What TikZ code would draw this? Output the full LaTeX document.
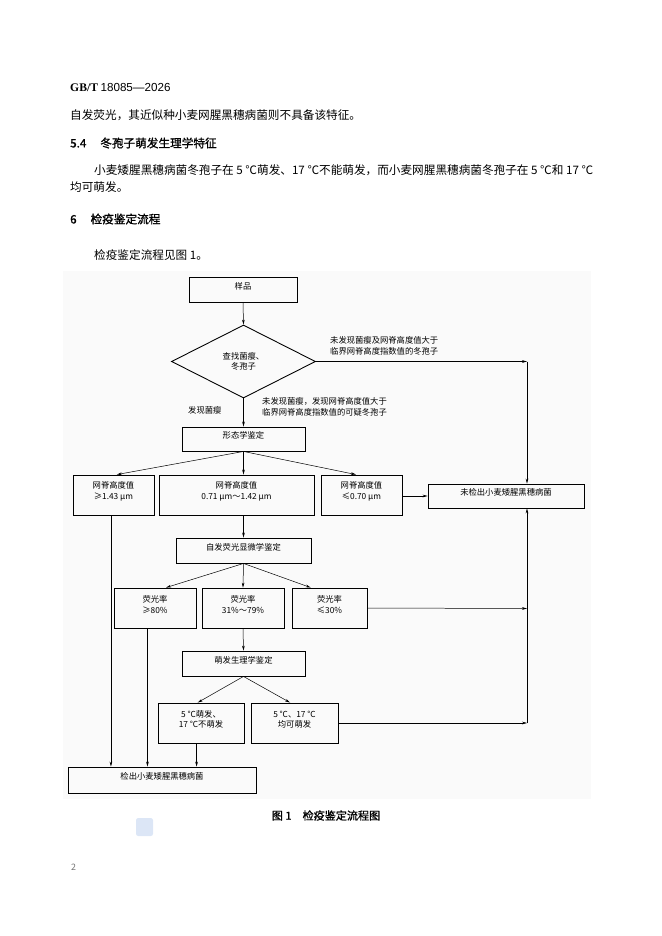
\documentclass[tikz,border=0pt]{standalone}
\usepackage{fontspec}
\setmainfont{Noto Sans CJK SC}
\newfontfamily\cjk{Noto Sans CJK SC}
\newfontfamily\cjkh[FakeBold=1.2]{Noto Sans CJK SC}
\newfontfamily\lserif{Liberation Serif}
\newfontfamily\lsans{Liberation Sans}
\usetikzlibrary{shapes.geometric,arrows.meta,fit}
\definecolor{logoblue}{RGB}{220,230,246}
\definecolor{figbg}{RGB}{250,250,250}
\newcommand\myfigfont{\cjk\fontsize{7.5}{9.6}\selectfont}
\newcommand\mybodyfont{\cjk\fontsize{10.5}{12}\selectfont}
\newcommand\myheadfont{\cjkh\fontsize{10.5}{12}\selectfont}
\tikzset{
  box/.style={draw, line width=0.8pt, inner sep=0pt, align=center, font=\myfigfont},
  conn/.style={line width=0.45pt, -{Stealth[length=4.5pt,width=2.4pt]}},
  lbl/.style={inner sep=0pt, align=left, anchor=west, font=\myfigfont},
  body/.style={inner sep=0pt, anchor=west, font=\mybodyfont},
  head/.style={inner sep=0pt, anchor=west, font=\myheadfont}
}
\begin{document}
\begin{tikzpicture}[x=0.9026pt,y=-0.9026pt]
\useasboundingbox (0,0) rectangle (662,936);
% faint figure background
\fill[figbg] (63.3,270.7) rectangle (591,799.3);
% page text
\node[inner sep=0pt, anchor=west] (hdr) at (70,87) {\fontsize{10.5}{12}\selectfont{\lserif\bfseries GB/T}\ {\lsans 18085—2026}};
\node[body] (t1) at (70,115) {自发荧光，其近似种小麦网腥黑穗病菌则不具备该特征。};
\node[head] (s54) at (70,143) {5.4\hspace{1.2em}冬孢子萌发生理学特征};
\node[body] (t2) at (94,170) {小麦矮腥黑穗病菌冬孢子在 5 ℃萌发、17 ℃不能萌发，而小麦网腥黑穗病菌冬孢子在 5 ℃和 17 ℃};
\node[body] (t3) at (70,187) {均可萌发。};
\node[head] (s6) at (70,219) {6\hspace{1.2em}检疫鉴定流程};
\node[body] (t4) at (94,255) {检疫鉴定流程见图 1。};
% boxes
\node[box, fit={(189,277) (297,302)}] (yp) {样品};
\node[diamond, draw, line width=0.8pt, inner sep=0pt, aspect=2, minimum width=130pt, minimum height=65.9pt, align=center, font=\myfigfont] (dm) at (243.5,361.5) {查找菌瘿、\\冬孢子};
\node[box, fit={(182,427) (305,451)}] (xt) {形态学鉴定};
\node[box, fit={(73,475) (154,515)}] (r1) {网脊高度值\\≥1.43 μm};
\node[box, fit={(159,475) (314,515)}] (r2) {网脊高度值\\0.71 μm～1.42 μm};
\node[box, fit={(321,475) (402,515)}] (r3) {网脊高度值\\≤0.70 μm};
\node[box, fit={(428,484) (584,508)}] (nd) {未检出小麦矮腥黑穗病菌};
\node[box, fit={(176,538) (311,563)}] (zf) {自发荧光显微学鉴定};
\node[box, fit={(114,588) (196,628)}] (f1) {荧光率\\≥80\%};
\node[box, fit={(202,588) (284,628)}] (f2) {荧光率\\31\%～79\%};
\node[box, fit={(292,588) (367,628)}] (f3) {荧光率\\≤30\%};
\node[box, fit={(182,651) (305,676)}] (mf) {萌发生理学鉴定};
\node[box, fit={(158,703) (244,743)}] (g1) {5 ℃萌发、\\17 ℃不萌发};
\node[box, fit={(251,703) (338,743)}] (g2) {5 ℃、17 ℃\\均可萌发};
\node[box, fit={(68,767) (256,793)}] (jc) {检出小麦矮腥黑穗病菌};
% labels
\node[lbl] (l1) at (330,346) {未发现菌瘿及网脊高度值大于\\临界网脊高度指数值的冬孢子};
\node[lbl] (l2) at (188,410.7) {发现菌瘿};
\node[lbl] (l3) at (262,407) {未发现菌瘿，发现网脊高度值大于\\临界网脊高度指数值的可疑冬孢子};
% connectors
\coordinate (c1) at (527,361.5);
\coordinate (c2) at (527,608.5);
\coordinate (c3) at (527,723);
\coordinate (a1) at ([xshift=-2.3pt]r1.south);
\coordinate (a2) at ([xshift=-6.8pt]f1.south);
\coordinate (a3) at ([xshift=-4pt]g1.south);
\draw[conn] (yp.south) -- (dm.north);
\draw[conn] (dm.east) -- (c1);
\draw[conn] (c1) -- (c1 |- nd.north);
\draw[conn] (dm.south) -- (xt.north);
\draw[conn] (xt.south) -- ([xshift=3pt]r1.north);
\draw[conn] (xt.south) -- (xt.south |- r2.north);
\draw[conn] (xt.south) -- ([xshift=-5pt]r3.north);
\draw[conn] (r3.east |- nd.west) -- (nd.west);
\draw[conn] (zf.north |- r2.south) -- (zf.north);
\draw[conn] (a1) -- (a1 |- jc.north);
\draw[conn] (zf.south) -- ([xshift=10pt]f1.north);
\draw[conn] (zf.south) -- (f2.north);
\draw[conn] (zf.south) -- ([xshift=-17pt]f3.north);
\draw[conn] (f3.east) -- (c2);
\draw[conn] (a2) -- (a2 |- jc.north);
\draw[conn] (f2.south) -- (mf.north);
\draw[conn] (mf.south) -- ([xshift=-3pt]g1.north);
\draw[conn] (mf.south) -- ([xshift=-4pt]g2.north);
\draw[conn] (a3) -- (a3 |- jc.north);
\draw[conn] (g2.east) -- (c3);
\draw[conn] (c3) -- (c3 |- nd.south);
% caption, logo, page number
\node[inner sep=0pt, font=\cjkh\fontsize{10}{12}\selectfont] (cap) at (326,815.5) {图 1\hspace{1em}检疫鉴定流程图};
\fill[logoblue, rounded corners=2pt] (136,818) rectangle (153,836);
\node[inner sep=0pt, anchor=west, text=black!55, font=\fontsize{8}{10}\selectfont] (pg) at (71,867) {2};
\end{tikzpicture}
\end{document}
